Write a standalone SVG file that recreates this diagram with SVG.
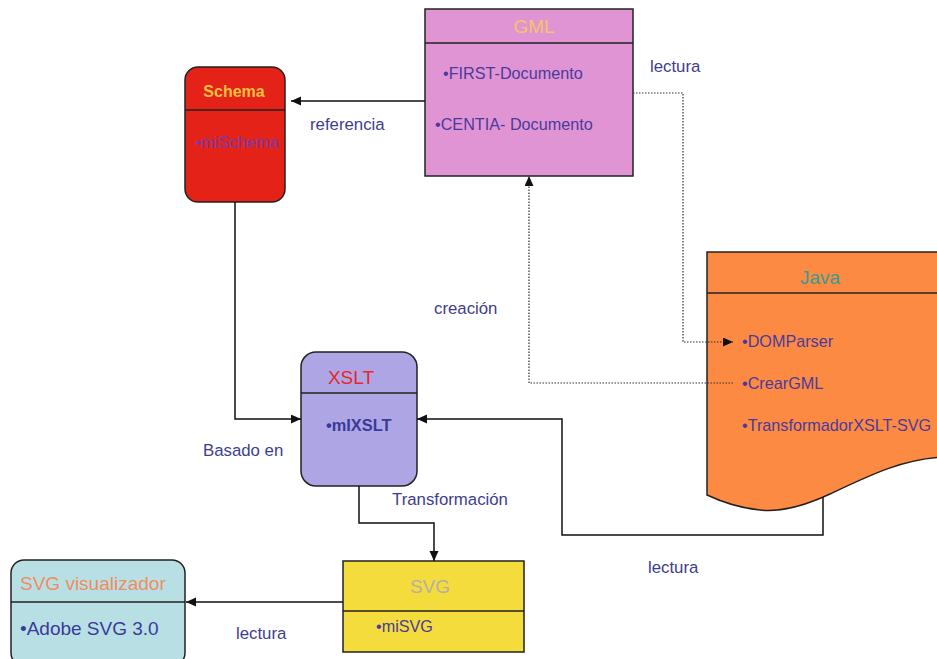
<svg xmlns="http://www.w3.org/2000/svg" width="937" height="659" viewBox="0 0 937 659">
<defs>
<marker id="arr" markerUnits="userSpaceOnUse" markerWidth="11" markerHeight="10" refX="10" refY="4.5" orient="auto">
<path d="M0,0 L10,4.5 L0,9 z" fill="#111"/>
</marker>
<style>
.box{stroke:#222;stroke-width:1.5}
.hl{stroke:#222;stroke-width:1.3;fill:none}
.t{font-family:"Liberation Sans",Arial,sans-serif}
.item{font-size:16.2px;fill:#4b3a9c}
.lbl{font-size:16.8px;fill:#3e3e8e}
.title{font-size:19px;text-anchor:middle}
.con{fill:none;stroke:#111;stroke-width:1.5}
.dot{fill:none;stroke:#333;stroke-width:1.2;stroke-dasharray:1.5 1.5}
</style>
</defs>
<rect width="937" height="659" fill="#ffffff"/>

<g id="gml">
<rect class="box" x="425" y="9" width="208" height="167" fill="#e094d4"/>
<line class="hl" x1="425" y1="43" x2="633" y2="43"/>
<text class="t title" x="534" y="33" fill="#f6c46a">GML</text>
<text class="t item" x="443" y="79">•FIRST-Documento</text>
<text class="t item" x="435" y="130">•CENTIA- Documento</text>
</g>

<g id="schema">
<rect class="box" x="185" y="67" width="100" height="135" rx="13" fill="#e42218"/>
<line class="hl" x1="185" y1="110" x2="285" y2="110"/>
<text class="t" x="234" y="97" font-size="16px" font-weight="bold" text-anchor="middle" fill="#f5c040">Schema</text>
<text class="t" x="195" y="148" font-size="16.5px" fill="#7a3aa8">•miSchema</text>
</g>

<g id="java">
<path class="box" d="M707,252 L945,252 L945,457 C905,458 870,475 830,494 C800,508 778,512 760,510 C740,508 722,502 707,495 Z" fill="#fd8a42"/>
<line class="hl" x1="707" y1="293" x2="945" y2="293"/>
<text class="t title" x="820" y="284" fill="#3a9c8c">Java</text>
<text class="t item" x="742" y="347" font-size="16.6px">•DOMParser</text>
<text class="t item" x="742" y="389" font-size="16.6px">•CrearGML</text>
<text class="t item" x="742" y="431" font-size="17.3px">•TransformadorXSLT-SVG</text>
</g>

<g id="xslt">
<rect class="box" x="301" y="352" width="116" height="134" rx="15" fill="#aea6e4"/>
<line class="hl" x1="301" y1="393" x2="417" y2="393"/>
<text class="t title" x="351" y="384" fill="#e8262c">XSLT</text>
<text class="t" x="326" y="431" font-size="16.4px" font-weight="bold" fill="#3a3a9a">•mIXSLT</text>
</g>

<g id="svg">
<rect class="box" x="343" y="561" width="181" height="91" fill="#f4dc3c"/>
<line class="hl" x1="343" y1="611" x2="524" y2="611"/>
<text class="t title" x="430" y="593" fill="#b4b0a8">SVG</text>
<text class="t item" x="376" y="632" font-size="16.5px">•miSVG</text>
</g>

<g id="visualizador">
<rect class="box" x="11" y="560" width="174" height="106" rx="13" fill="#b8e0e4"/>
<line class="hl" x1="11" y1="602" x2="185" y2="602"/>
<text class="t" x="20" y="590" font-size="19px" fill="#f08c62">SVG visualizador</text>
<text class="t" x="20" y="635" font-size="19px" fill="#3a3a9a">•Adobe SVG 3.0</text>
</g>

<g id="connectors">
<path class="con" d="M425,101 H291" marker-end="url(#arr)"/>
<path class="con" d="M235,202 V419 H301" marker-end="url(#arr)"/>
<path class="con" d="M823,497 V535 H562 V419 H417" marker-end="url(#arr)"/>
<path class="con" d="M359,486 V523 H434 V561" marker-end="url(#arr)"/>
<path class="con" d="M343,602 H186" marker-end="url(#arr)"/>
<path class="dot" d="M633,93 H683 V342 H733" marker-end="url(#arr)"/>
<path class="dot" d="M733,383 H529 V176" marker-end="url(#arr)"/>
</g>

<g id="labels" class="t lbl">
<text x="650" y="72">lectura</text>
<text x="310" y="130">referencia</text>
<text x="434" y="314">creación</text>
<text x="203" y="456">Basado en</text>
<text x="392" y="505">Transformación</text>
<text x="648" y="573">lectura</text>
<text x="236" y="639">lectura</text>
</g>
</svg>
